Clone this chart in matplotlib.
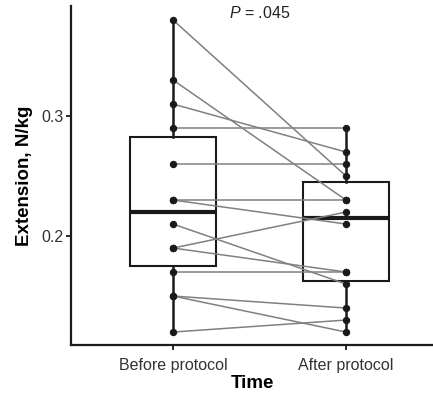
import numpy as np
import matplotlib
matplotlib.use("Agg")
import matplotlib.pyplot as plt

plt.rcParams['font.family'] = ['Liberation Sans', 'DejaVu Sans']
plt.rcParams['mathtext.fontset'] = 'custom'
plt.rcParams['mathtext.it'] = 'Liberation Sans:italic'
plt.rcParams['mathtext.rm'] = 'Liberation Sans'

# paired extension values per subject (N/kg)
before = [0.38, 0.33, 0.31, 0.29, 0.26, 0.23, 0.23, 0.21, 0.19, 0.19, 0.17, 0.15, 0.15, 0.12]
after = [0.25, 0.23, 0.27, 0.29, 0.26, 0.23, 0.21, 0.16, 0.22, 0.17, 0.17, 0.14, 0.12, 0.13]
time_labels = ["Before protocol", "After protocol"]
p_label = "$P$ = .045"

fig = plt.figure(figsize=(4.33, 3.98), dpi=100)
ax = fig.add_axes([71 / 433, 53 / 398, 362 / 433, 339 / 398])

dark = "#1a1a1a"
ax.boxplot([before, after], positions=[1, 2], widths=0.5, whis=(0, 100),
           showcaps=False, showfliers=False, patch_artist=True,
           boxprops=dict(facecolor="white", edgecolor=dark, linewidth=1.5),
           medianprops=dict(color=dark, linewidth=3.0),
           whiskerprops=dict(color=dark, linewidth=1.8), zorder=1)

# one grey line per subject joining the two time points
for b, a in zip(before, after):
    ax.plot([1, 2], [b, a], color="#808080", linewidth=1.1, zorder=2)

ax.plot(np.ones(len(before)), before, "o", color=dark, markersize=4.3, zorder=3)
ax.plot(np.full(len(after), 2), after, "o", color=dark, markersize=4.3, zorder=3)

ax.set_xlim(0.41, 2.503)
ax.set_ylim(0.1092, 0.3917)
ax.set_xticks([1, 2])
ax.set_xticklabels(time_labels)
ax.set_yticks([0.2, 0.3])
ax.set_yticklabels(["0.2", "0.3"])

for side in ["top", "right"]:
    ax.spines[side].set_visible(False)
for side in ["left", "bottom"]:
    ax.spines[side].set_linewidth(1.6)
    ax.spines[side].set_color(dark)

ax.tick_params(axis="both", labelsize=11.5, length=3.5, width=1.3,
               color=dark, labelcolor="#333333")
ax.tick_params(axis="x", pad=6)
ax.tick_params(axis="y", pad=2)

ax.set_xlabel("Time", fontsize=13.5, fontweight="bold", labelpad=1)
ax.set_ylabel("Extension, N/kg", fontsize=13.5, fontweight="bold", labelpad=6)

ax.text(1.5, 0.3855, p_label, ha="center", va="center", fontsize=11.5,
        color="#222222")

fig.savefig("out.png", dpi=100)
